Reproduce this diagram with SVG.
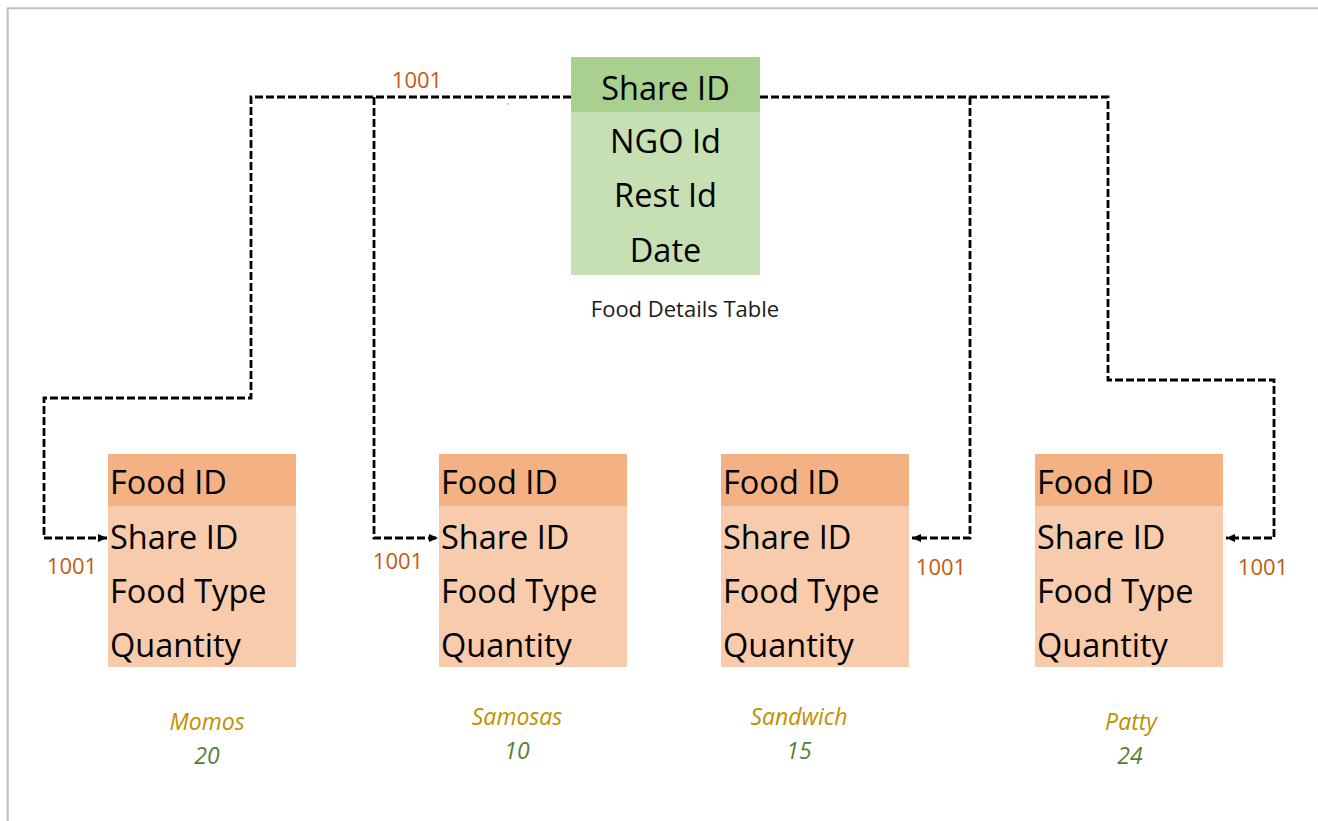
<svg xmlns="http://www.w3.org/2000/svg" width="1318" height="821" viewBox="0 0 1318 821">
  <defs>
    <marker id="arrow" markerUnits="userSpaceOnUse" markerWidth="10" markerHeight="9" refX="9" refY="4.5" orient="auto">
      <path d="M0,0.5 L9,4.5 L0,8.5 z" fill="#000"/>
    </marker>
    <style>
      .frame { fill: none; stroke: #bfbfbf; stroke-width: 2; }
      .hdr-green { fill: #a9d08e; }
      .body-green { fill: #c6e0b4; }
      .hdr-orange { fill: #f4b183; }
      .body-orange { fill: #f8cbad; }
      .field { font-family: "Open Sans", "Noto Sans", "Liberation Sans", sans-serif; font-size: 32.5px; fill: #000; }
      .mid { text-anchor: middle; }
      .key { font-family: "Open Sans", "Noto Sans", "Liberation Sans", sans-serif; font-size: 22px; fill: #c55a11; text-anchor: middle; }
      .caption { font-family: "Open Sans", "Noto Sans", "Liberation Sans", sans-serif; font-size: 22px; fill: #1a1a1a; text-anchor: middle; }
      .item { font-family: "Open Sans", "Noto Sans", "Liberation Sans", sans-serif; font-style: italic; font-size: 23px; fill: #bf9000; text-anchor: middle; }
      .qty { font-family: "Open Sans", "Noto Sans", "Liberation Sans", sans-serif; font-style: italic; font-size: 23px; fill: #548235; text-anchor: middle; }
      .link { fill: none; stroke: #000; stroke-width: 2.8; stroke-dasharray: 8 3; }
    </style>
  </defs>

  <rect width="1318" height="821" fill="#fff"/>
  <!-- page frame (top and left edges) -->
  <path class="frame" d="M7.7,821 V8.3 H1318"/>

  <!-- connectors -->
  <g id="connectors">
    <path class="link" d="M571,97 H251 V398 H44 V538 H107" marker-end="url(#arrow)"/>
    <path class="link" d="M374,97 V538 H438" marker-end="url(#arrow)"/>
    <path class="link" d="M760,97 H1108 V380 H1274 V538 H1226" marker-end="url(#arrow)"/>
    <path class="link" d="M970,97 V538 H912" marker-end="url(#arrow)"/>
    <circle cx="508" cy="104" r="1" fill="#9dc3e6"/>
    <text class="key" x="417" y="88">1001</text>
    <text class="key" x="72" y="574">1001</text>
    <text class="key" x="398" y="569">1001</text>
    <text class="key" x="941" y="575">1001</text>
    <text class="key" x="1263" y="575">1001</text>
  </g>

  <!-- share table -->
  <g id="food-details-table">
    <rect class="body-green" x="571" y="57" width="189" height="218"/>
    <rect class="hdr-green" x="571" y="57" width="189" height="55"/>
    <text class="field mid" x="665.5" y="100">Share ID</text>
    <text class="field mid" x="665.5" y="153">NGO Id</text>
    <text class="field mid" x="665.5" y="207">Rest Id</text>
    <text class="field mid" x="665.5" y="262">Date</text>
    <text class="caption" x="685" y="317">Food Details Table</text>
  </g>

  <!-- food tables -->
  <g id="food-momos">
    <rect class="body-orange" x="108" y="454" width="188" height="213"/>
    <rect class="hdr-orange" x="108" y="454" width="188" height="52"/>
    <text class="field" x="110" y="494">Food ID</text>
    <text class="field" x="110" y="549">Share ID</text>
    <text class="field" x="110" y="603">Food Type</text>
    <text class="field" x="110" y="657">Quantity</text>
    <text class="item" x="207" y="730">Momos</text>
    <text class="qty" x="207" y="764">20</text>
  </g>

  <g id="food-samosas">
    <rect class="body-orange" x="439" y="454" width="188" height="213"/>
    <rect class="hdr-orange" x="439" y="454" width="188" height="52"/>
    <text class="field" x="441" y="494">Food ID</text>
    <text class="field" x="441" y="549">Share ID</text>
    <text class="field" x="441" y="603">Food Type</text>
    <text class="field" x="441" y="657">Quantity</text>
    <text class="item" x="517" y="725">Samosas</text>
    <text class="qty" x="517" y="759">10</text>
  </g>

  <g id="food-sandwich">
    <rect class="body-orange" x="721" y="454" width="188" height="213"/>
    <rect class="hdr-orange" x="721" y="454" width="188" height="52"/>
    <text class="field" x="723" y="494">Food ID</text>
    <text class="field" x="723" y="549">Share ID</text>
    <text class="field" x="723" y="603">Food Type</text>
    <text class="field" x="723" y="657">Quantity</text>
    <text class="item" x="799" y="725">Sandwich</text>
    <text class="qty" x="799" y="759">15</text>
  </g>

  <g id="food-patty">
    <rect class="body-orange" x="1035" y="454" width="188" height="213"/>
    <rect class="hdr-orange" x="1035" y="454" width="188" height="52"/>
    <text class="field" x="1037" y="494">Food ID</text>
    <text class="field" x="1037" y="549">Share ID</text>
    <text class="field" x="1037" y="603">Food Type</text>
    <text class="field" x="1037" y="657">Quantity</text>
    <text class="item" x="1131" y="730">Patty</text>
    <text class="qty" x="1130" y="764">24</text>
  </g>
</svg>
